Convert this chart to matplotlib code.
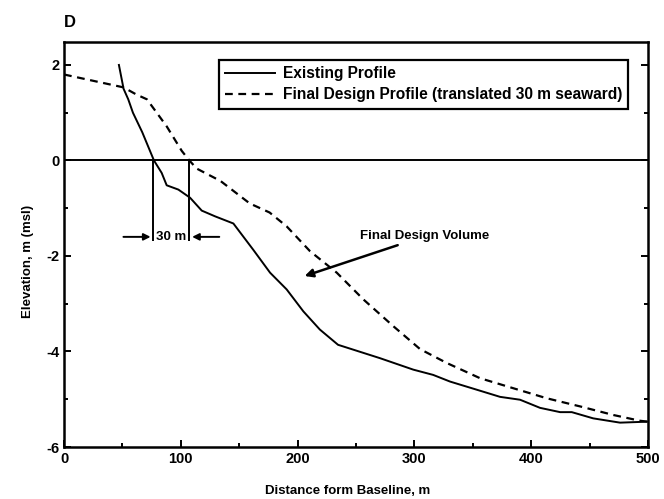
import numpy as np
import matplotlib.pyplot as plt
from matplotlib.ticker import MultipleLocator

plt.rcParams['font.family'] = ['Liberation Sans', 'DejaVu Sans']
plt.rcParams['font.weight'] = 'bold'
plt.rcParams['axes.labelweight'] = 'bold'
plt.rcParams['axes.unicode_minus'] = False

# existing beach profile (distance m, elevation m msl)
exist_x = [47, 51, 55, 59, 67, 77, 83.6, 87.9, 97.9, 107.9, 117.9, 129.3, 145,
           162, 176.4, 190.6, 204.9, 219, 234.6, 270.5, 299, 316, 330.5, 353.3,
           373.3, 390.4, 407.5, 424.7, 434.7, 453, 476, 499]
exist_y = [2.0, 1.5, 1.28, 1.0, 0.59, 0.0, -0.26, -0.52, -0.61, -0.78, -1.05, -1.17, -1.32,
           -1.87, -2.35, -2.70, -3.16, -3.54, -3.86, -4.14, -4.38, -4.49, -4.63, -4.80,
           -4.95, -5.01, -5.18, -5.27, -5.27, -5.40, -5.49, -5.47]

# final design profile, translated 30 m seaward
design_x = [0, 51, 62, 71, 88, 100.8, 107.3, 113.6, 134, 159, 176, 190.6, 210.6,
            233.5, 256.3, 281.9, 304.8, 327.6, 356.2, 384.7, 413.3, 441.8, 470.3, 493, 500]
design_y = [1.8, 1.53, 1.38, 1.28, 0.71, 0.2, 0.0, -0.17, -0.43, -0.90, -1.09, -1.38, -1.90,
            -2.35, -2.91, -3.47, -3.95, -4.24, -4.56, -4.77, -4.98, -5.15, -5.33, -5.45, -5.47]

shoreline_x = [76.5, 107.3]   # where each profile crosses msl

fig = plt.figure(figsize=(6.64, 4.99), dpi=100)
ax = fig.add_axes([0.0964, 0.1042, 0.8796, 0.8116])

ax.plot(exist_x, exist_y, color='black', lw=1.4, label='Existing Profile')
ax.plot(design_x, design_y, color='black', lw=1.6, linestyle=(0, (3.5, 2.5)),
        label='Final Design Profile (translated 30 m seaward)')
ax.axhline(0, color='black', lw=1.4)

# 30 m offset marker
ax.vlines(shoreline_x, -1.69, 0, color='black', lw=1.4)
ax.annotate('', xy=(shoreline_x[0], -1.6), xytext=(shoreline_x[0] - 28, -1.6),
            arrowprops=dict(arrowstyle='-|>', color='black', lw=1.4, mutation_scale=10))
ax.annotate('', xy=(shoreline_x[1], -1.6), xytext=(shoreline_x[1] + 28, -1.6),
            arrowprops=dict(arrowstyle='-|>', color='black', lw=1.4, mutation_scale=10))
ax.text(shoreline_x[0] + 2, -1.6, '30 m', fontsize=9.5, va='center', ha='left')

ax.annotate('Final Design Volume', xy=(206, -2.42), xytext=(253, -1.59),
            fontsize=9.5, va='center', ha='left',
            arrowprops=dict(arrowstyle='-|>', color='black', lw=1.8, mutation_scale=12,
                            shrinkA=0, shrinkB=0))

ax.set_xlim(0, 500)
ax.set_ylim(-6, 2.48)
ax.xaxis.set_major_locator(MultipleLocator(100))
ax.xaxis.set_minor_locator(MultipleLocator(50))
ax.yaxis.set_major_locator(MultipleLocator(2))
ax.yaxis.set_minor_locator(MultipleLocator(1))
ax.tick_params(which='both', direction='in', right=True, top=False, width=1.4,
               labelsize=10.5)
ax.tick_params(which='major', length=5)
ax.tick_params(which='minor', length=3)
for s in ax.spines.values():
    s.set_linewidth(1.8)

ax.set_xlabel('Distance form Baseline, m', fontsize=9.5)
ax.set_ylabel('Elevation, m (msl)', fontsize=9.5)
ax.xaxis.set_label_coords(0.486, -0.094)
ax.yaxis.set_label_coords(-0.052, 0.457)
fig.text(0.096, 0.955, 'D', fontsize=12, ha='left', va='center')

leg = ax.legend(loc='upper right', bbox_to_anchor=(0.966, 0.956), borderaxespad=0,
                fontsize=11.2, frameon=True, fancybox=False, handlelength=3.2,
                borderpad=0.4, labelspacing=0.4, handletextpad=0.5)
leg.get_frame().set_edgecolor('black')
leg.get_frame().set_linewidth(1.6)
leg.get_frame().set_alpha(1)

fig.savefig('out.png', dpi=100)
